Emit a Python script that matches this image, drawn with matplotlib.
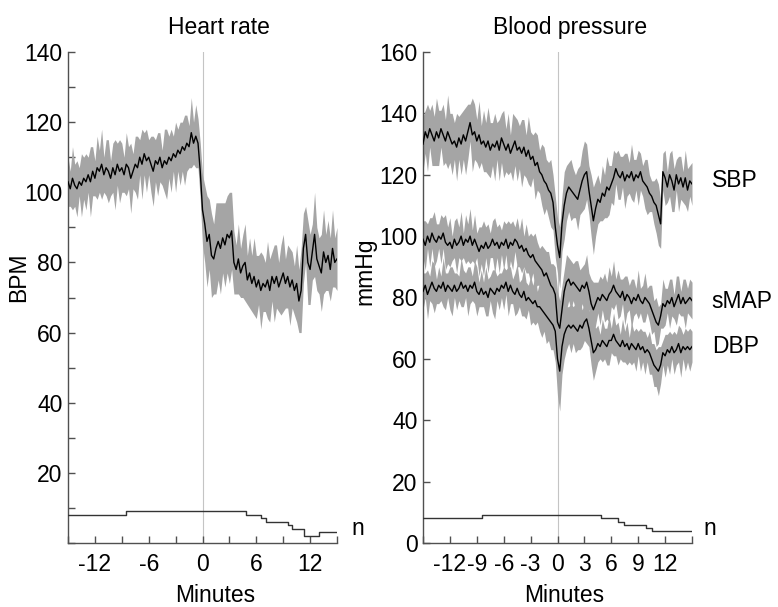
import numpy as np
import matplotlib
matplotlib.use('Agg')
import matplotlib.pyplot as plt

plt.rcParams['font.family'] = ['Liberation Sans', 'DejaVu Sans']

# time axis (minutes relative to event), 0.25 min steps
minutes = np.arange(-15, 15.001, 0.25)

# heart rate, mean and SD (BPM)
hr_mean = [103, 101, 104, 102, 101, 103, 102, 104, 103, 105, 103, 106,
           104, 107, 106, 108, 105, 107, 106, 104, 107, 105, 108, 106,
           107, 105, 108, 107, 104, 106, 108, 107, 110, 108, 111, 109,
           110, 108, 106, 109, 108, 110, 107, 109, 108, 110, 109, 111,
           110, 112, 111, 113, 112, 114, 113, 117, 114, 116, 114, 106,
           95, 91, 86, 88, 82, 81, 84, 86, 84, 87, 85, 88,
           87, 89, 80, 78, 81, 77, 79, 80, 75, 77, 74, 76,
           73, 75, 72, 74, 73, 75, 72, 76, 74, 76, 73, 75,
           77, 74, 76, 73, 75, 72, 74, 69, 72, 84, 88, 80,
           78, 83, 88, 81, 79, 77, 83, 80, 82, 78, 84, 80, 81]
hr_sd = [7, 5, 9, 6, 8, 4, 9, 6, 8, 5, 10, 7,
         5, 9, 6, 10, 5, 8, 9, 5, 7, 10, 6, 9,
         7, 5, 9, 6, 10, 5, 8, 9, 5, 10, 6, 9,
         5, 8, 10, 6, 9, 7, 5, 9, 10, 6, 9, 5,
         10, 6, 9, 7, 10, 8, 6, 10, 6, 9, 7, 8,
         10, 11, 13, 10, 12, 10, 13, 11, 13, 10, 12, 11,
         13, 11, 9, 7, 10, 7, 9, 11, 7, 10, 8, 11,
         9, 7, 11, 8, 7, 11, 9, 7, 11, 9, 7, 10,
         11, 7, 9, 11, 8, 7, 11, 9, 12, 10, 8, 12,
         10, 8, 12, 9, 8, 11, 12, 8, 10, 9, 11, 7, 9]

# blood pressure, mean and SD (mmHg)
sbp_mean = [130, 134, 132, 135, 133, 131, 134, 132, 135, 133, 131, 134,
            132, 130, 131, 129, 132, 130, 133, 131, 134, 137, 133, 134,
            131, 133, 130, 131, 129, 131, 128, 130, 129, 131, 128, 132,
            130, 128, 130, 127, 129, 131, 128, 129, 127, 129, 126, 128,
            125, 126, 123, 124, 121, 120, 118, 117, 115, 114, 111, 103,
            97, 93, 104, 110, 114, 116, 115, 114, 113, 112, 115, 118,
            120, 121, 115, 110, 105, 109, 112, 111, 114, 113, 116, 115,
            117, 119, 122, 120, 119, 121, 118, 120, 119, 121, 118, 120,
            119, 121, 118, 117, 116, 114, 113, 111, 110, 107, 104, 121,
            119, 116, 120, 118, 115, 120, 117, 119, 116, 119, 115, 118, 117]
sbp_sd = [9, 7, 11, 6, 10, 8, 11, 9, 6, 10, 7, 12,
          8, 10, 6, 11, 7, 10, 8, 11, 9, 6, 12, 9,
          7, 11, 6, 10, 8, 11, 9, 7, 11, 6, 10, 8,
          11, 7, 10, 6, 11, 8, 10, 7, 11, 9, 7, 11,
          9, 7, 11, 9, 7, 10, 11, 8, 9, 11, 9, 10,
          9, 10, 9, 11, 9, 8, 10, 8, 7, 10, 8, 10,
          11, 9, 8, 10, 11, 9, 8, 6, 9, 7, 10, 8,
          6, 9, 5, 8, 7, 5, 9, 7, 5, 9, 7, 5,
          9, 6, 5, 8, 9, 6, 5, 7, 9, 10, 8, 6,
          9, 5, 7, 10, 7, 5, 9, 7, 5, 9, 7, 5, 7]
map_mean = [99, 97, 100, 98, 101, 99, 98, 100, 99, 101, 98, 97,
            98, 96, 99, 97, 98, 100, 97, 99, 98, 100, 97, 99,
            97, 95, 97, 96, 98, 96, 97, 99, 97, 98, 96, 98,
            97, 99, 96, 98, 97, 99, 98, 96, 97, 95, 96, 94,
            93, 94, 92, 91, 90, 89, 87, 88, 86, 84, 83, 81,
            72, 70, 76, 82, 85, 86, 84, 85, 84, 83, 82, 84,
            83, 85, 82, 78, 76, 78, 80, 79, 81, 80, 79, 81,
            82, 84, 82, 81, 80, 82, 79, 81, 80, 78, 80, 79,
            81, 79, 78, 80, 79, 78, 76, 74, 72, 71, 74, 78,
            77, 79, 78, 80, 77, 79, 81, 78, 80, 78, 79, 80, 79]
map_sd = [6, 8, 4, 8, 5, 9, 6, 4, 8, 5, 9, 6,
          8, 4, 6, 9, 5, 8, 4, 8, 6, 9, 5, 8,
          4, 8, 6, 9, 5, 8, 4, 6, 9, 5, 8, 4,
          8, 5, 9, 6, 8, 4, 8, 6, 9, 5, 8, 6,
          8, 6, 9, 7, 6, 8, 9, 7, 9, 7, 8, 9,
          10, 9, 8, 7, 9, 7, 8, 6, 8, 9, 7, 6,
          8, 9, 6, 8, 9, 7, 5, 8, 5, 8, 6, 9,
          5, 8, 4, 8, 6, 4, 8, 6, 4, 8, 6, 4,
          8, 4, 6, 8, 4, 6, 8, 5, 8, 6, 4, 8,
          6, 4, 8, 6, 4, 8, 6, 4, 6, 8, 4, 6, 6]
dbp_mean = [82, 84, 81, 83, 85, 83, 82, 84, 83, 85, 82, 84,
            83, 82, 84, 82, 83, 85, 83, 84, 82, 84, 83, 85,
            82, 81, 83, 81, 82, 80, 83, 82, 81, 83, 82, 84,
            83, 85, 82, 84, 82, 81, 83, 81, 80, 82, 79, 80,
            79, 78, 79, 77, 77, 76, 75, 74, 73, 72, 71, 69,
            60, 56, 64, 68, 70, 71, 70, 71, 70, 69, 71, 70,
            72, 73, 70, 66, 62, 63, 65, 64, 66, 65, 64, 66,
            66, 68, 66, 65, 64, 66, 64, 65, 63, 65, 64, 63,
            65, 63, 64, 62, 63, 62, 60, 58, 57, 56, 58, 62,
            61, 63, 62, 64, 62, 63, 65, 62, 64, 63, 64, 63, 64]
dbp_sd = [6, 4, 8, 4, 7, 8, 4, 6, 4, 8, 6, 4,
          7, 8, 4, 6, 4, 8, 6, 4, 8, 6, 4, 7,
          8, 4, 6, 4, 8, 6, 4, 7, 8, 4, 6, 4,
          7, 4, 8, 6, 4, 7, 8, 4, 6, 8, 6, 4,
          8, 6, 8, 5, 8, 9, 6, 9, 7, 9, 8, 10,
          12, 13, 9, 8, 7, 6, 8, 6, 8, 6, 8, 6,
          6, 8, 6, 8, 9, 7, 6, 4, 7, 5, 6, 8,
          4, 7, 5, 7, 4, 7, 5, 7, 4, 7, 5, 7,
          4, 7, 5, 7, 4, 7, 5, 7, 6, 8, 6, 4,
          7, 5, 7, 4, 7, 5, 6, 8, 4, 7, 5, 7, 5]

# number of subjects contributing (step edges and counts)
n_hr_edges = [-15, -8.5, 4.8, 6.5, 7.1, 9.5, 10.0, 11.3, 13.0, 15]
n_hr = [8, 9, 8, 7, 6, 5, 4, 2, 3, 3]
n_bp_edges = [-15, -8.4, 4.9, 6.7, 7.4, 9.9, 10.5, 15]
n_bp = [8, 9, 8, 7, 6, 5, 4, 4]

band_col = '#a5a5a5'
spine_col = '#505050'
fs = 16.5

fig = plt.figure(figsize=(7.78, 6.07), dpi=100)
ax1 = fig.add_axes([68 / 778, 1 - 543 / 607, 269 / 778, 491 / 607])
ax2 = fig.add_axes([423 / 778, 1 - 543 / 607, 269 / 778, 491 / 607])


def band(ax, mean, sd):
    mean = np.array(mean, float)
    sd = np.array(sd, float)
    ax.fill_between(minutes, mean - sd, mean + sd, color=band_col, lw=0, zorder=2)


def trace(ax, mean):
    ax.plot(minutes, mean, color='black', lw=1.0, zorder=3)


# heart rate panel
ax1.axvline(0, color='#c4c4c4', lw=0.8, zorder=1)
band(ax1, hr_mean, hr_sd)
trace(ax1, hr_mean)
ax1.step(n_hr_edges, n_hr, where='post', color='#333333', lw=1, zorder=3)

# blood pressure panel
ax2.axvline(0, color='#c4c4c4', lw=0.8, zorder=1)
for m, s in [(sbp_mean, sbp_sd), (map_mean, map_sd), (dbp_mean, dbp_sd)]:
    band(ax2, m, s)
for m in [sbp_mean, map_mean, dbp_mean]:
    trace(ax2, m)
ax2.step(n_bp_edges, n_bp, where='post', color='#333333', lw=1, zorder=3)

for ax in (ax1, ax2):
    ax.set_xlim(-15, 15)
    for s in ('top', 'right'):
        ax.spines[s].set_visible(False)
    for s in ('left', 'bottom'):
        ax.spines[s].set_color(spine_col)
        ax.spines[s].set_linewidth(1)
    ax.tick_params(direction='in', length=5, width=1, color=spine_col,
                   labelsize=fs, pad=4)
    ax.tick_params(axis='x', pad=7)
    ax.set_xticks(np.arange(-15, 15.1, 3))

ax1.set_ylim(0, 140)
ax1.set_yticks(np.arange(0, 141, 10))
ax1.set_yticklabels(['' if (v % 20 or v == 0) else str(v) for v in range(0, 141, 10)])
ax1.set_xticklabels(['' if v % 6 or abs(v) == 15 else str(v) for v in range(-15, 16, 3)])

ax2.set_ylim(0, 160)
ax2.set_yticks(np.arange(0, 161, 20))
ax2.set_xticklabels(['' if abs(v) == 15 else str(v) for v in range(-15, 16, 3)])

# titles and axis labels
fig.text(219 / 778, 1 - 34 / 607, 'Heart rate', ha='center', va='baseline', fontsize=fs)
fig.text(570 / 778, 1 - 34 / 607, 'Blood pressure', ha='center', va='baseline', fontsize=fs)
fig.text(215 / 778, 1 - 602 / 607, 'Minutes', ha='center', va='baseline', fontsize=fs)
fig.text(564 / 778, 1 - 602 / 607, 'Minutes', ha='center', va='baseline', fontsize=fs)
fig.text(19 / 778, 1 - 277 / 607, 'BPM', ha='center', va='center', rotation=90, fontsize=fs)
fig.text(365 / 778, 1 - 271 / 607, 'mmHg', ha='center', va='center', rotation=90, fontsize=fs)

# series labels
ax1.text(16.6, 2.3, 'n', ha='left', va='baseline', fontsize=fs, clip_on=False)
ax2.text(16.3, 2.6, 'n', ha='left', va='baseline', fontsize=fs, clip_on=False)
ax2.text(17.2, 116, 'SBP', ha='left', va='baseline', fontsize=fs, clip_on=False)
ax2.text(17.2, 76.5, 'sMAP', ha='left', va='baseline', fontsize=fs, clip_on=False)
ax2.text(17.2, 62, 'DBP', ha='left', va='baseline', fontsize=fs, clip_on=False)

fig.savefig('out.png', dpi=100)
